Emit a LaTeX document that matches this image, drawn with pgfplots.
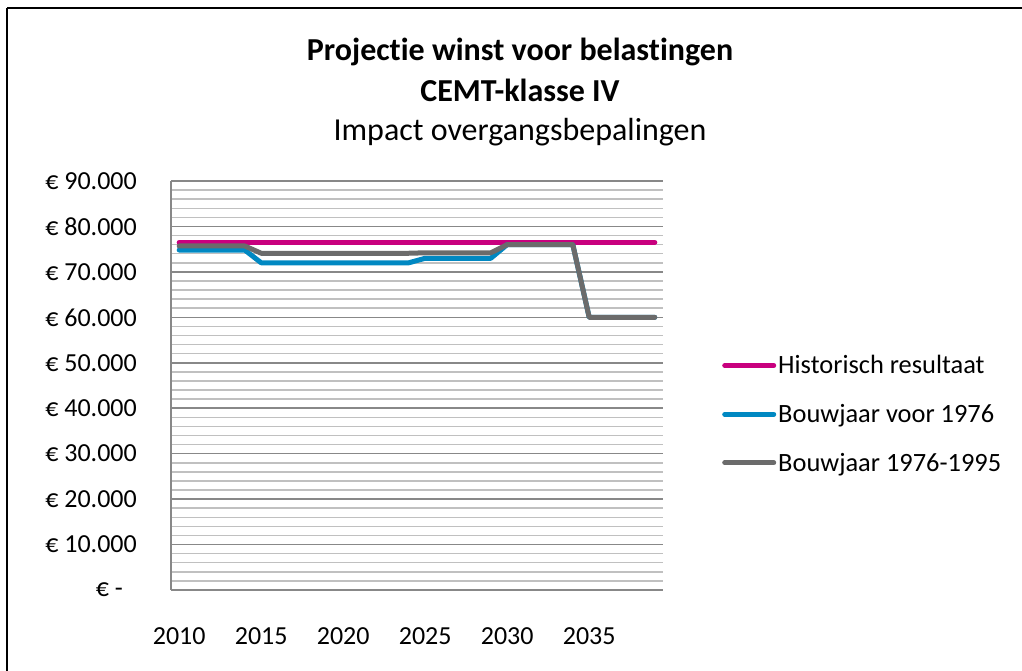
\documentclass[border=0pt]{standalone}
\usepackage{pgfplots}
\pgfplotsset{compat=1.18}
\usepackage{fontspec}
\setmainfont[Ligatures=NoCommon]{Carlito}
\definecolor{cpink}{HTML}{C8007E}
\definecolor{cblue}{HTML}{0088C2}
\definecolor{cgray}{HTML}{6B6B6B}
\definecolor{gmajor}{HTML}{888888}
\definecolor{gminor}{HTML}{C0C0C0}
\begin{document}
\begin{tikzpicture}[x=1pt,y=1pt]
\path[use as bounding box] (0,0) rectangle (1022,671);
\draw[black, line width=1.5pt] (7,0) -- (7,663);
\draw[black, line width=1.5pt] (7,663) -- (1022,663);
\begin{axis}[
  at={(171pt,81pt)}, anchor=south west,
  scale only axis, width=492pt, height=409pt,
  xmin=2009.5, xmax=2039.5,
  ymin=0, ymax=90000,
  scaled y ticks=false,
  axis x line=bottom, axis y line=left,
  axis line style={gmajor, line width=1.5pt, -},
  xtick={2010,2015,2020,2025,2030,2035},
  xticklabels={2010,2015,2020,2025,2030,2035},
  ytick={0,10000,20000,30000,40000,50000,60000,70000,80000,90000},
  yticklabels={{€ -\hspace*{14pt}},€ 10.000,€ 20.000,€ 30.000,€ 40.000,€ 50.000,€ 60.000,€ 70.000,€ 80.000,€ 90.000},
  minor ytick={2000,4000,6000,8000,12000,14000,16000,18000,22000,24000,26000,28000,32000,34000,36000,38000,42000,44000,46000,48000,52000,54000,56000,58000,62000,64000,66000,68000,72000,74000,76000,78000,82000,84000,86000,88000},
  ymajorgrids, yminorgrids,
  major grid style={gmajor, line width=1.5pt},
  minor grid style={gminor, line width=1.5pt},
  major tick length=0pt, minor tick length=0pt,
  tick label style={font=\fontsize{26}{30}\selectfont, text=black},
  yticklabel style={anchor=east, inner sep=0pt, xshift=-34pt},
  xticklabel style={anchor=north, inner sep=0pt, yshift=-37pt},
  legend style={draw=none, fill=none, at={(1.12,0.43)}, anchor=west,
    font=\fontsize{26.4}{30}\selectfont, inner sep=0pt, row sep=25pt,
    /tikz/every even column/.append style={column sep=6pt}},
  legend cell align=left,
  legend image code/.code={\draw[#1, line cap=round] (0pt,0pt) -- (49pt,0pt);},
  every axis plot/.append style={line width=5pt, line join=round, line cap=round},
  clip=false,
]
\addplot[cpink] coordinates {
(2010,76500)(2011,76500)(2012,76500)(2013,76500)(2014,76500)(2015,76500)(2016,76500)(2017,76500)(2018,76500)(2019,76500)
(2020,76500)(2021,76500)(2022,76500)(2023,76500)(2024,76500)(2025,76500)(2026,76500)(2027,76500)(2028,76500)(2029,76500)
(2030,76500)(2031,76500)(2032,76500)(2033,76500)(2034,76500)(2035,76500)(2036,76500)(2037,76500)(2038,76500)(2039,76500)};
\addlegendentry{Historisch resultaat}
\addplot[cblue] coordinates {
(2010,74800)(2011,74800)(2012,74800)(2013,74800)(2014,74800)(2015,72000)(2016,72000)(2017,72000)(2018,72000)(2019,72000)
(2020,72000)(2021,72000)(2022,72000)(2023,72000)(2024,72000)(2025,73000)(2026,73000)(2027,73000)(2028,73000)(2029,73000)
(2030,76000)(2031,76000)(2032,76000)(2033,76000)(2034,76000)(2035,60000)(2036,60000)(2037,60000)(2038,60000)(2039,60000)};
\addlegendentry{Bouwjaar voor 1976}
\addplot[cgray] coordinates {
(2010,75700)(2011,75700)(2012,75700)(2013,75700)(2014,75700)(2015,74100)(2016,74100)(2017,74100)(2018,74100)(2019,74100)
(2020,74100)(2021,74100)(2022,74100)(2023,74100)(2024,74100)(2025,74200)(2026,74200)(2027,74200)(2028,74200)(2029,74200)
(2030,76000)(2031,76000)(2032,76000)(2033,76000)(2034,76000)(2035,60000)(2036,60000)(2037,60000)(2038,60000)(2039,60000)};
\addlegendentry{Bouwjaar 1976-1995}
\end{axis}
\node[font=\bfseries\fontsize{32}{38}\selectfont, inner sep=0pt] at (520,671-52) {Projectie winst voor belastingen};
\node[font=\bfseries\fontsize{32}{38}\selectfont, inner sep=0pt] at (520,671-90) {CEMT-klasse IV};
\node[font=\fontsize{32}{38}\selectfont, inner sep=0pt] at (520,671-132) {Impact overgangsbepalingen};
\end{tikzpicture}
\end{document}
